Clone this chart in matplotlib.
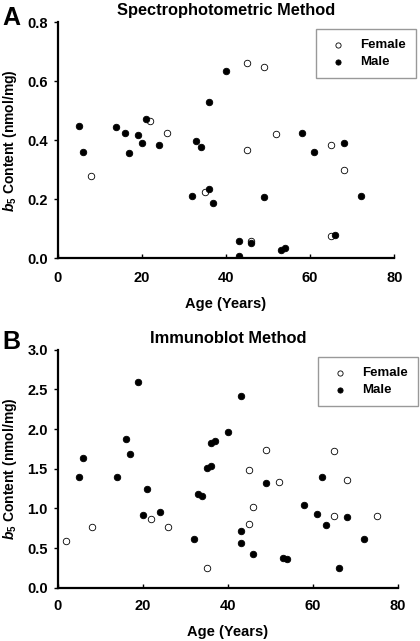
import numpy as np
import matplotlib.pyplot as plt

plt.rcParams['font.family'] = ['Liberation Sans', 'DejaVu Sans']
plt.rcParams['font.weight'] = 'bold'
plt.rcParams['mathtext.fontset'] = 'custom'
plt.rcParams['mathtext.it'] = 'Liberation Sans:italic:bold'
plt.rcParams['mathtext.rm'] = 'Liberation Sans:bold'

# Panel A - spectrophotometric method
a_female_age = [8, 22, 26, 35, 45, 45, 46, 49, 52, 65, 65, 68]
a_female_b5 = [0.280, 0.465, 0.424, 0.224, 0.662, 0.367, 0.058, 0.649, 0.422, 0.384, 0.075, 0.298]
a_male_age = [5, 6, 14, 16, 17, 19, 20, 21, 24, 32, 33, 34, 36, 36, 37, 40,
              43, 43, 46, 49, 53, 54, 58, 61, 66, 68, 72]
a_male_b5 = [0.449, 0.359, 0.445, 0.424, 0.356, 0.418, 0.392, 0.471, 0.384, 0.212, 0.398, 0.377,
             0.530, 0.235, 0.187, 0.636, 0.060, 0.008, 0.053, 0.207, 0.028, 0.034, 0.424, 0.359,
             0.080, 0.390, 0.210]

# Panel B - immunoblot method
b_female_age = [2, 8, 22, 26, 35, 45, 45, 46, 49, 52, 65, 65, 68, 75]
b_female_b5 = [0.59, 0.76, 0.86, 0.76, 0.25, 1.48, 0.80, 1.02, 1.74, 1.33, 1.72, 0.91, 1.36, 0.91]
b_male_age = [5, 6, 14, 16, 17, 19, 20, 21, 24, 32, 33, 34, 35, 36, 36, 37, 40,
              43, 43, 43, 46, 49, 53, 54, 58, 61, 62, 63, 66, 68, 72]
b_male_b5 = [1.40, 1.64, 1.40, 1.87, 1.68, 2.59, 0.92, 1.25, 0.95, 0.61, 1.18, 1.16, 1.51, 1.53,
             1.82, 1.85, 1.96, 2.42, 0.72, 0.56, 0.42, 1.32, 0.37, 0.36, 1.04, 0.93, 1.40, 0.79,
             0.25, 0.89, 0.61]

fig = plt.figure(figsize=(4.2, 6.41), dpi=100)


def panel(rect, f_age, f_val, m_age, m_val, ylim, yticks, title, letter, leg_corner, letter_y, xpad):
    ax = fig.add_axes(rect)
    ax.scatter(f_age, f_val, s=22, facecolors='white', edgecolors='black', linewidths=0.6,
               label='Female', zorder=3)
    ax.scatter(m_age, m_val, s=22, facecolors='black', edgecolors='black', linewidths=0.6,
               label='Male', zorder=3)
    ax.set_xlim(0, 80)
    ax.set_ylim(*ylim)
    ax.set_xticks([0, 20, 40, 60, 80])
    ax.set_yticks(yticks)
    ax.set_yticklabels(['%.1f' % v for v in yticks])
    ax.spines['top'].set_visible(False)
    ax.spines['right'].set_visible(False)
    for s in ['left', 'bottom']:
        ax.spines[s].set_linewidth(1.6)
    ax.tick_params(axis='x', direction='in', length=3, width=1, labelsize=10.5, pad=xpad)
    ax.tick_params(axis='y', direction='out', length=3, width=1, labelsize=10.5, pad=4)
    ax.set_xlabel('Age (Years)', fontsize=10.5, fontweight='bold', labelpad=9)
    ax.set_ylabel(r'$\mathit{b}_{5}$ Content (nmol/mg)', fontsize=10, fontweight='bold',
                  labelpad=6)
    ax.set_title(title, fontsize=11.8, fontweight='bold', pad=5)
    fig.text(0.005, letter_y, letter, fontsize=18, fontweight='bold', va='center')
    leg = ax.legend(loc='upper right', bbox_to_anchor=leg_corner, bbox_transform=fig.transFigure,
                    borderaxespad=0, fontsize=9.5, frameon=True, fancybox=False, markerscale=0.8,
                    handletextpad=0.8, borderpad=0.75, labelspacing=0.35, handlelength=1.8)
    leg.get_frame().set_edgecolor('#808080')
    leg.get_frame().set_linewidth(1.0)
    return ax


panel([0.137, 0.597, 0.802, 0.368], a_female_age, a_female_b5, a_male_age, a_male_b5,
      (0, 0.8), [0.0, 0.2, 0.4, 0.6, 0.8], 'Spectrophotometric Method', 'A',
      (416 / 420, 1 - 29 / 641), 0.972, 9)
panel([0.137, 0.0832, 0.811, 0.371], b_female_age, b_female_b5, b_male_age, b_male_b5,
      (0, 3.0), [0.0, 0.5, 1.0, 1.5, 2.0, 2.5, 3.0], 'Immunoblot Method', 'B',
      (418 / 420, 1 - 357 / 641), 0.466, 8)

fig.savefig('out.png', dpi=100)
